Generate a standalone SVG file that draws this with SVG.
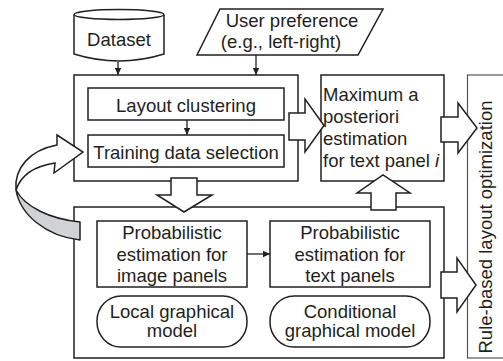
<svg xmlns="http://www.w3.org/2000/svg" width="503" height="361" viewBox="0 0 503 361">
<defs>
<style>
.b{fill:#fff;stroke:#231f20;stroke-width:1.5}
.ln{fill:none;stroke:#231f20;stroke-width:1.3}
.t{font-family:"Liberation Sans",Arial,sans-serif;font-size:18.5px;fill:#231f20}
.m{text-anchor:middle}
</style>
<marker id="ah" markerWidth="8" markerHeight="8" refX="7" refY="4" orient="auto" markerUnits="userSpaceOnUse">
<path d="M0,0.8 L7,4 L0,7.2 Z" fill="#231f20"/>
</marker>
</defs>
<rect width="503" height="361" fill="#fff"/>

<g id="dataset">
<path class="b" d="M74,15 V54 Q119,68 164,54 V15"/>
<ellipse class="b" cx="119" cy="14.5" rx="45" ry="5"/>
<text class="t m" x="119" y="46">Dataset</text>
</g>

<g id="user-preference">
<polygon class="b" points="220,9 383,9 358,55 197,55"/>
<text class="t m" x="292" y="27">User preference</text>
<text class="t m" x="281" y="48">(e.g., left-right)</text>
</g>

<g id="clustering-block">
<rect class="b" x="74" y="75" width="224" height="106"/>
</g>
<g id="layout-clustering">
<rect class="b" x="88" y="88" width="196" height="32"/>
<text class="t m" x="186" y="112">Layout clustering</text>
</g>
<g id="training-data-selection">
<rect class="b" x="88" y="135" width="196" height="32"/>
<text class="t m" x="186" y="159">Training data selection</text>
</g>

<g id="map-estimation">
<rect class="b" x="321" y="75" width="123" height="106"/>
<text class="t" x="323" y="101">Maximum a</text>
<text class="t" x="323" y="123">posteriori</text>
<text class="t" x="323" y="145">estimation</text>
<text class="t" x="323" y="167">for text panel <tspan font-style="italic">i</tspan></text>
</g>

<g id="rule-based">
<rect x="467.5" y="75" width="45" height="283" fill="#fff" stroke="#555" stroke-width="1.2"/>
<text class="t m" x="492" y="227" transform="rotate(-90 492 227)">Rule-based layout optimization</text>
</g>

<g id="estimation-block">
<rect class="b" x="74" y="207" width="370" height="151"/>
</g>
<g id="image-panels">
<rect class="b" x="97" y="221" width="150" height="66"/>
<text class="t m" x="172" y="239">Probabilistic</text>
<text class="t m" x="172" y="260.5">estimation for</text>
<text class="t m" x="172" y="282">image panels</text>
</g>
<g id="text-panels">
<rect class="b" x="270" y="221" width="160" height="66"/>
<text class="t m" x="350" y="239">Probabilistic</text>
<text class="t m" x="350" y="260.5">estimation for</text>
<text class="t m" x="350" y="282">text panels</text>
</g>
<g id="local-model">
<rect class="b" x="97" y="296" width="150" height="51" rx="24" ry="25"/>
<text class="t m" x="172" y="318">Local graphical</text>
<text class="t m" x="172" y="337">model</text>
</g>
<g id="conditional-model">
<rect class="b" x="270" y="296" width="160" height="51" rx="24" ry="25"/>
<text class="t m" x="350" y="318">Conditional</text>
<text class="t m" x="350" y="337">graphical model</text>
</g>

<g id="connectors">
<line class="ln" x1="118" y1="62" x2="118" y2="75" marker-end="url(#ah)"/>
<line class="ln" x1="256" y1="55" x2="256" y2="75" marker-end="url(#ah)"/>
<line class="ln" x1="187" y1="120" x2="187" y2="135" marker-end="url(#ah)"/>
<line class="ln" x1="247" y1="254" x2="270" y2="254" marker-end="url(#ah)"/>
<path class="b" d="M289,113 H305 V99 L324,125.5 L305,152 V140 H289 Z"/>
<path class="b" d="M441,117 H458 V103 L477,128 L458,153 V142 H441 Z"/>
<path class="b" d="M441,272 H457 V258 L476,285 L457,312 V298 H441 Z"/>
<path class="b" d="M171,178 H197 V195 H212 L184,212 L157,195 H171 Z"/>
<path class="b" d="M371,210 V193 H357 L383,175 L410,193 H396 V210 Z"/>
<path d="M16,190 C20,214 45,236 80,240 L80,222 C50,219 25,207 16,190 Z" fill="#d1d2d4" stroke="#231f20" stroke-width="1.5" stroke-linejoin="round"/>
<path class="b" d="M16,190 C14,168 30,150 57,145 L57,135 L83,152 L54,173 L55,163 C35,166 21,175 16,190 Z"/>
</g>
</svg>
